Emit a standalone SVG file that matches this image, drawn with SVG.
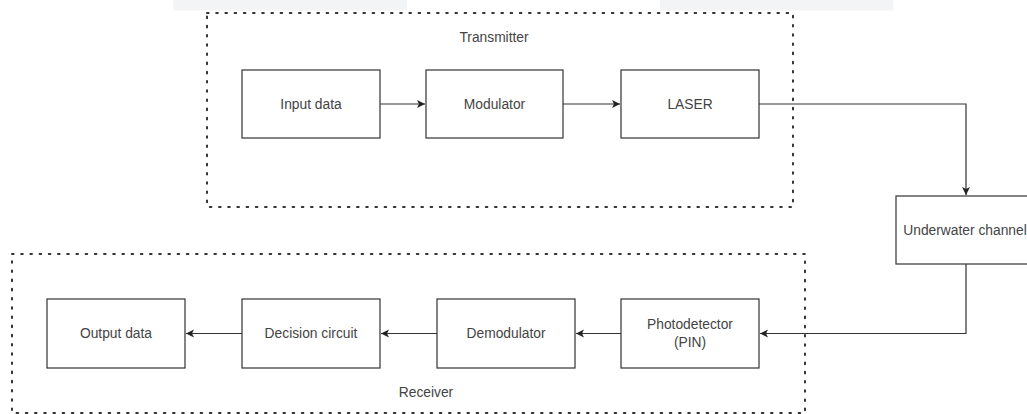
<svg xmlns="http://www.w3.org/2000/svg" width="1027" height="414" viewBox="0 0 1027 414">
<style>
.box{fill:#fff;stroke:#333;stroke-width:1.2}
.grp{fill:none;stroke:#333;stroke-width:2;stroke-dasharray:1.6 7.6;stroke-linecap:round}
.lbl{font-family:"Liberation Sans",Arial,sans-serif;font-size:13.8px;fill:#444;text-anchor:middle;dominant-baseline:central}
.edge{fill:none;stroke:#333;stroke-width:1.2}
</style>
<defs>
<marker id="arr" markerWidth="10" markerHeight="10" refX="9" refY="5" orient="auto" markerUnits="userSpaceOnUse">
<path d="M1,1 L9,5 L1,9 L3,5 Z" fill="#222"/>
</marker>
</defs>
<rect width="1027" height="414" fill="#fff"/>
<rect x="173" y="0" width="234" height="10.5" fill="#f3f4f6"/>
<rect x="660" y="0" width="233" height="10.5" fill="#f3f4f6"/>
<g id="transmitter">
<rect class="grp" x="207" y="13" width="586" height="194"/>
<text class="lbl" x="494" y="37">Transmitter</text>
</g>
<g id="receiver">
<rect class="grp" x="12" y="254" width="793" height="159"/>
<text class="lbl" x="426" y="392">Receiver</text>
</g>
<g id="connectors">
<path class="edge" d="M380,104 H425" marker-end="url(#arr)"/>
<path class="edge" d="M563,104 H620" marker-end="url(#arr)"/>
<path class="edge" d="M759,104 H966 V195" marker-end="url(#arr)"/>
<path class="edge" d="M966,264 V333.5 H760" marker-end="url(#arr)"/>
<path class="edge" d="M621,333.5 H576" marker-end="url(#arr)"/>
<path class="edge" d="M437,333.5 H381" marker-end="url(#arr)"/>
<path class="edge" d="M242,333.5 H186" marker-end="url(#arr)"/>
</g>
<g id="input-data">
<rect class="box" x="242" y="70" width="138" height="68"/>
<text class="lbl" x="311" y="104">Input data</text>
</g>
<g id="modulator">
<rect class="box" x="426" y="70" width="137" height="68"/>
<text class="lbl" x="494.5" y="104">Modulator</text>
</g>
<g id="laser">
<rect class="box" x="621" y="70" width="138" height="68"/>
<text class="lbl" x="690" y="104">LASER</text>
</g>
<g id="underwater-channel">
<rect class="box" x="896" y="196" width="138" height="68"/>
<text class="lbl" x="965" y="230">Underwater channel</text>
</g>
<g id="photodetector">
<rect class="box" x="621" y="299" width="138" height="69"/>
<text class="lbl" x="690" y="324.5">Photodetector</text>
<text class="lbl" x="690" y="342.5">(PIN)</text>
</g>
<g id="demodulator">
<rect class="box" x="437" y="299" width="138" height="69"/>
<text class="lbl" x="506" y="333.5">Demodulator</text>
</g>
<g id="decision-circuit">
<rect class="box" x="242" y="299" width="138" height="69"/>
<text class="lbl" x="311" y="333.5">Decision circuit</text>
</g>
<g id="output-data">
<rect class="box" x="47" y="299" width="138" height="69"/>
<text class="lbl" x="116" y="333.5">Output data</text>
</g>
</svg>
